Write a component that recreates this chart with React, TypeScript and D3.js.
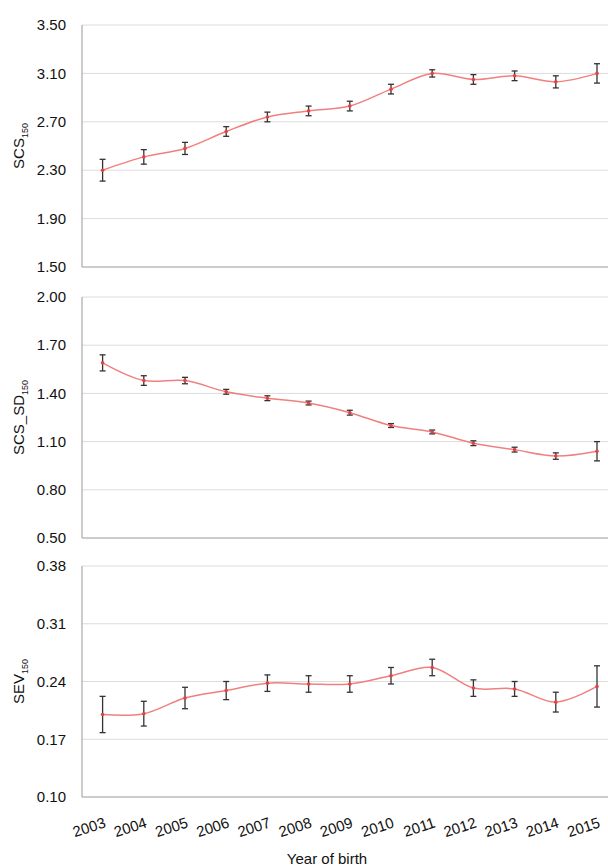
import * as d3 from "d3";

const years = ["2003","2004","2005","2006","2007","2008","2009","2010","2011","2012","2013","2014","2015"];
const scsMean = [2.30, 2.41, 2.48, 2.62, 2.74, 2.79, 2.83, 2.97, 3.10, 3.05, 3.08, 3.03, 3.10];
const scsErr = [0.09, 0.06, 0.05, 0.04, 0.04, 0.04, 0.04, 0.04, 0.03, 0.04, 0.04, 0.05, 0.08];
const sdMean = [1.59, 1.48, 1.48, 1.41, 1.37, 1.34, 1.28, 1.20, 1.16, 1.09, 1.05, 1.01, 1.04];
const sdErr = [0.05, 0.03, 0.02, 0.015, 0.015, 0.012, 0.015, 0.012, 0.012, 0.015, 0.015, 0.02, 0.06];
const sevMean = [0.200, 0.201, 0.220, 0.229, 0.238, 0.237, 0.237, 0.247, 0.257, 0.232, 0.231, 0.215, 0.234];
const sevErr = [0.022, 0.015, 0.013, 0.011, 0.010, 0.010, 0.010, 0.010, 0.010, 0.010, 0.009, 0.012, 0.025];
const scsTicks = [1.5, 1.9, 2.3, 2.7, 3.1, 3.5];
const sdTicks = [0.5, 0.8, 1.1, 1.4, 1.7, 2.0];
const sevTicks = [0.10, 0.17, 0.24, 0.31, 0.38];

const font = "'Liberation Sans', Arial, sans-serif";
const x = d3.scaleBand<string>().domain(years).range([82, 82 + 13 * 41.2]);
const cx = (y: string) => x(y)! + x.bandwidth() / 2;

type PanelProps = {
  top: number; bottom: number; ticks: number[]; mean: number[]; err: number[];
  label: string; sub: string; showX?: boolean;
};

function Panel({ top, bottom, ticks, mean, err, label, sub, showX }: PanelProps) {
  const y = d3.scaleLinear().domain([ticks[0], ticks[ticks.length - 1]]).range([bottom, top]);
  const line = d3.line<number>().x((_, i) => cx(years[i])).y((d) => y(d)).curve(d3.curveCatmullRom.alpha(0.5));
  const midY = (top + bottom) / 2;
  return (
    <g>
      {ticks.map((t, i) => (
        <g key={t}>
          {i > 0 && <line x1={82} x2={608} y1={y(t)} y2={y(t)} stroke="#dcdcdc" strokeWidth={1} />}
          <text x={66} y={y(t)} dy="0.35em" textAnchor="end" fontSize={15} fill="#111">{t.toFixed(2)}</text>
        </g>
      ))}
      <line x1={82} x2={82} y1={top} y2={bottom} stroke="#999" />
      <line x1={82} x2={608} y1={bottom} y2={bottom} stroke="#999" />
      <path d={line(mean)!} fill="none" stroke="#f08080" strokeWidth={1.5} />
      {mean.map((m, i) => {
        const px = cx(years[i]);
        return (
          <g key={i} stroke="#333" strokeWidth={1.3}>
            <line x1={px} x2={px} y1={y(m - err[i])} y2={y(m + err[i])} />
            <line x1={px - 3} x2={px + 3} y1={y(m - err[i])} y2={y(m - err[i])} />
            <line x1={px - 3} x2={px + 3} y1={y(m + err[i])} y2={y(m + err[i])} />
            <circle cx={px} cy={y(m)} r={1.8} fill="#e84040" stroke="none" />
          </g>
        );
      })}
      <text transform={`translate(24,${midY}) rotate(-90)`} textAnchor="middle" fontSize={15} fill="#111">
        {label}<tspan fontSize={9} dy={4}>{sub}</tspan>
      </text>
      {showX && years.map((yr) => (
        <text key={yr} transform={`translate(${cx(yr) + 4},${bottom + 30}) rotate(-18)`} textAnchor="end" fontSize={15} fill="#111">{yr}</text>
      ))}
    </g>
  );
}

export default function App() {
  return (
    <svg width={608} height={867} style={{ position: "absolute", left: 0, top: 0, background: "#fff", fontFamily: font }}>
      <Panel top={25} bottom={267} ticks={scsTicks} mean={scsMean} err={scsErr} label="SCS" sub="150" />
      <Panel top={297} bottom={538} ticks={sdTicks} mean={sdMean} err={sdErr} label="SCS_SD" sub="150" />
      <Panel top={566} bottom={797} ticks={sevTicks} mean={sevMean} err={sevErr} label="SEV" sub="150" showX />
      <text x={327} y={864} textAnchor="middle" fontSize={15} fill="#111">Year of birth</text>
    </svg>
  );
}
